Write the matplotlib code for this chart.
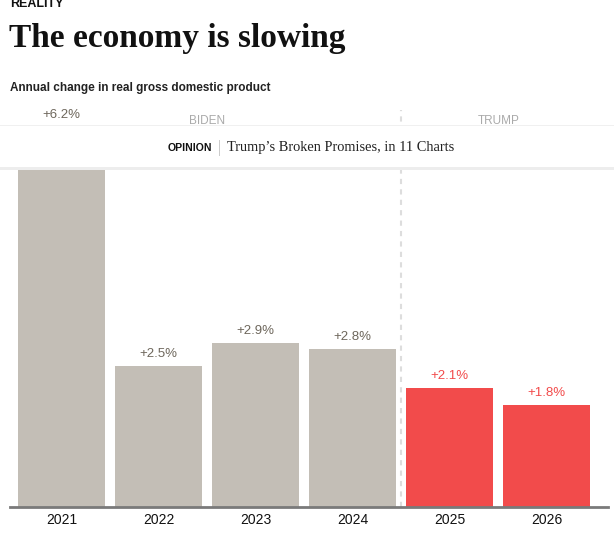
import matplotlib
matplotlib.use("Agg")
import matplotlib.pyplot as plt
from matplotlib.patches import Rectangle

years = ["2021", "2022", "2023", "2024", "2025", "2026"]
gdp_change = [6.2, 2.5, 2.9, 2.8, 2.1, 1.8]
president = ["BIDEN", "BIDEN", "BIDEN", "BIDEN", "TRUMP", "TRUMP"]

gray = "#c3beb6"
red = "#f24b4b"
colors = [gray if p == "BIDEN" else red for p in president]
label_colors = ["#6e675c" if p == "BIDEN" else red for p in president]

W, H = 614, 537
fig = plt.figure(figsize=(W / 100, H / 100), dpi=100)

def fx(px):
    return px / W

def fy(py):
    return 1 - py / H

# chart area: baseline at y=507px, top at 110px
ax = fig.add_axes([fx(10), fy(507), fx(598), (507 - 110) / H])
x = list(range(len(years)))
ax.bar(x, gdp_change, width=0.897, color=colors, zorder=2)
ax.set_xlim(-0.53, 5.63)
ax.set_ylim(0, 397 / 56.5)

for s in ["top", "right", "left"]:
    ax.spines[s].set_visible(False)
ax.spines["bottom"].set_color("#7a7a7a")
ax.spines["bottom"].set_linewidth(2)
ax.spines["bottom"].set_zorder(3)
ax.set_yticks([])
ax.set_xticks(x)
ax.set_xticklabels(years, fontsize=10, family="Liberation Sans", color="#111111")
ax.tick_params(axis="x", length=0, pad=4)

# value labels; the tall 2021 bar runs under the banner, its label sits in the top row
label_top = 6.72
for xi, v, c in zip(x, gdp_change, label_colors):
    ly = label_top if v > 5 else v
    ax.annotate(f"+{v}%", (xi, ly), xytext=(0, 8.6),
                textcoords="offset points", ha="center", va="center",
                fontsize=9.5, family="Liberation Sans", color=c,
                annotation_clip=False)

# split between administrations
split = 3.5
ax.axvline(split, ymin=0, ymax=1, color="#dddddd", lw=1.5,
           ls=(0, (2.5, 2.5)), zorder=1)
for name in ["BIDEN", "TRUMP"]:
    idx = [i for i, p in enumerate(president) if p == name]
    cx = (idx[0] + idx[-1]) / 2
    ax.text(cx, 0.972, name, transform=ax.get_xaxis_transform(),
            ha="center", va="center", fontsize=8.5, color="#aaaaaa",
            family="Liberation Sans")

# headings
fig.text(fx(10), fy(7), "REALITY", fontsize=9, fontweight="bold",
         family="Liberation Sans", color="#111111", va="baseline")
fig.text(fx(9), fy(47), "The economy is slowing", fontsize=24,
         fontweight="bold", family="Liberation Serif", color="#111111",
         va="baseline")
fig.text(fx(10), fy(88), "Annual change in real gross domestic product",
         fontsize=8.5, fontweight="bold", family="Liberation Sans",
         color="#222222", va="center")

# opinion banner over the chart
fig.add_artist(Rectangle((0, fy(170)), 1, (170 - 125) / H,
                         transform=fig.transFigure, facecolor="#ededed",
                         edgecolor="none", zorder=9))
fig.add_artist(Rectangle((0, fy(167)), 1, (167 - 125) / H,
                         transform=fig.transFigure, facecolor="white",
                         edgecolor="none", zorder=10))
fig.add_artist(Rectangle((0, fy(126)), 1, 1 / H,
                         transform=fig.transFigure, facecolor="#f0f0f0",
                         edgecolor="none", zorder=10))
fig.text(fx(212), fy(148), "OPINION", ha="right", va="center", fontsize=7.6,
         fontweight="bold", family="Liberation Sans", color="#111111",
         zorder=11)
fig.add_artist(Rectangle((fx(219), fy(156)), 1 / W, 16 / H,
                         transform=fig.transFigure, facecolor="#cccccc",
                         edgecolor="none", zorder=11))
fig.text(fx(227), fy(148), "Trump\u2019s Broken Promises, in 11 Charts",
         ha="left", va="center", fontsize=10.4, family="Liberation Serif",
         color="#222222", zorder=11)

fig.savefig("out.png", dpi=100)
